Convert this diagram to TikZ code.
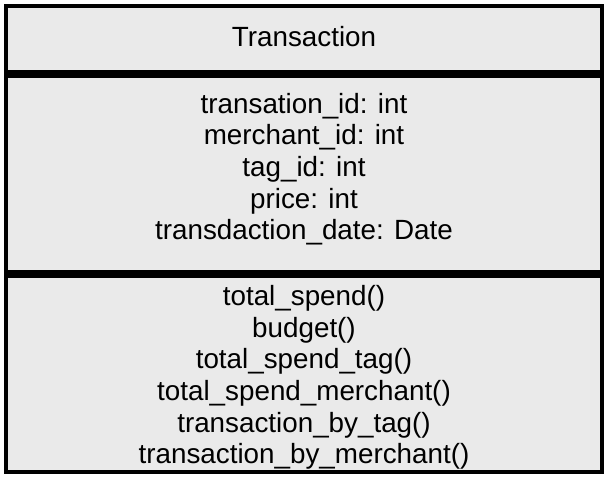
\documentclass[tikz,border=0pt]{standalone}
\usepackage{fontspec}
\setmainfont{Liberation Sans}
\definecolor{umlfill}{HTML}{EAEAEA}
\begin{document}
\begin{tikzpicture}[x=1pt,y=-1pt,
  compartment/.style={draw=black, line width=4pt, fill=umlfill},
  umltext/.style={align=center, anchor=base, inner sep=0pt,
    font=\fontsize{27.8}{31.7}\selectfont}]
  \useasboundingbox (0,0) rectangle (606,478);
  % class compartments: name, attributes, operations
  \draw[compartment] (6,6) rectangle (602,72);
  \draw[compartment] (6,76) rectangle (602,272);
  \draw[compartment] (6,276) rectangle (602,472);
  % multi-line nodes are placed by the baseline of their last line
  \node[umltext] (name) at (304,47) {Transaction};
  \node[umltext] (attrs) at (304,240) {transation\_id: int\\merchant\_id: int\\tag\_id: int\\price: int\\transdaction\_date: Date};
  \node[umltext] (ops) at (304,464) {total\_spend()\\budget()\\total\_spend\_tag()\\total\_spend\_merchant()\\transaction\_by\_tag()\\transaction\_by\_merchant()};
\end{tikzpicture}
\end{document}
